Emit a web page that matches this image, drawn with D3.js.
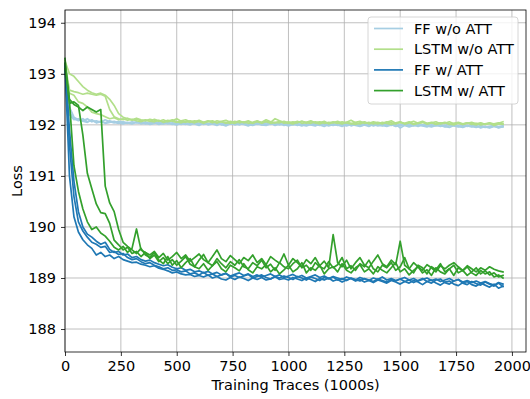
<!DOCTYPE html>
<html>
<head>
<meta charset="utf-8">
<script src="https://cdn.jsdelivr.net/npm/d3@7"></script>
<style>
  body { margin: 0; background: #fff; }
  svg text { font-family: 'DejaVu Sans', 'Verdana', sans-serif; font-size: 14.5px; fill: #000; }
  .grid line { stroke: #b0b0b0; stroke-width: 0.8px; }
  .axis line { stroke: #000; stroke-width: 0.8px; }
  .axis path { display: none; }
  .run { fill: none; stroke-width: 1.7px; stroke-linejoin: round; stroke-linecap: square; }
</style>
</head>
<body>
<div id="chart"></div>
<script>
// one logged point every 20k traces
const step = 20;

const xTicks = [0, 250, 500, 750, 1000, 1250, 1500, 1750, 2000];
const yTicks = [188, 189, 190, 191, 192, 193, 194];

const labels = ["FF w/o ATT", "LSTM w/o ATT", "FF w/ ATT", "LSTM w/ ATT"];
const colors = ["#a6cee3", "#b2df8a", "#1f78b4", "#33a02c"];

// FF w/o ATT, three runs
const ffNoAtt = [
  [193.20,192.35,192.15,192.10,192.08,192.12,192.06,192.08,192.05,192.10,
   192.06,192.04,192.07,192.05,192.03,192.06,192.04,192.05,192.02,192.04,
   192.06,192.03,192.05,192.02,192.04,192.03,192.01,192.04,192.02,192.05,
   192.03,192.01,192.03,192.02,192.04,192.00,192.03,192.02,192.01,192.04,
   192.02,192.00,192.03,192.01,192.02,192.04,192.01,192.03,192.00,192.02,
   192.01,192.03,191.99,192.02,192.00,192.03,192.01,191.99,192.02,192.00,
   192.02,191.99,192.01,192.03,191.98,192.01,192.00,192.02,191.99,192.01,
   192.00,191.98,192.02,191.99,192.01,191.94,191.99,192.01,191.98,192.00,
   191.99,192.01,191.98,192.00,191.97,191.99,192.01,191.98,191.96,191.99,
   191.97,191.99,191.96,191.98,191.95,191.97,191.99,191.96,191.98],
  [193.15,192.25,192.12,192.08,192.12,192.06,192.09,192.05,192.07,192.04,
   192.08,192.05,192.03,192.06,192.04,192.02,192.05,192.03,192.06,192.02,
   192.04,192.01,192.03,192.05,192.02,192.00,192.03,192.01,192.04,192.02,
   191.99,192.03,192.01,192.04,192.02,192.01,191.98,192.02,192.03,192.00,
   192.03,192.01,191.99,192.02,192.00,192.01,192.03,191.99,192.02,192.01,
   191.98,192.01,192.03,192.00,191.98,192.01,192.02,192.00,191.97,192.01,
   191.99,192.02,192.00,191.98,192.01,191.99,191.97,192.00,192.02,191.98,
   192.01,191.99,191.97,192.00,191.98,192.01,191.99,191.96,191.99,192.01,
   191.98,191.96,192.00,191.98,191.99,191.96,191.98,192.00,191.97,191.95,
   191.99,191.97,191.95,191.98,191.96,191.94,191.97,191.95,191.96],
  [193.10,192.20,192.10,192.12,192.07,192.05,192.10,192.04,192.06,192.03,
   192.05,192.07,192.04,192.02,192.05,192.03,192.06,192.02,192.04,192.01,
   192.03,192.05,192.02,192.04,192.01,192.03,192.05,192.02,192.00,192.03,
   192.02,192.04,192.00,192.02,191.99,192.03,192.01,192.04,192.00,192.02,
   192.01,191.98,192.02,192.04,192.00,191.99,192.02,192.01,192.03,191.99,
   192.02,192.00,192.01,191.98,192.02,192.00,191.98,192.02,192.01,191.98,
   192.01,192.00,191.97,192.01,192.00,192.02,191.98,192.00,191.97,192.01,
   191.98,192.00,191.99,192.01,191.97,191.99,192.01,191.98,192.00,191.97,
   192.00,191.98,191.96,191.99,192.01,191.97,191.95,191.99,191.98,191.96,
   191.98,191.96,191.99,191.94,191.97,191.95,191.98,191.94,191.97]
];

// LSTM w/o ATT, three runs
const lstmNoAtt = [
  [193.25,193.00,192.95,192.85,192.75,192.68,192.63,192.60,192.62,192.58,
   192.50,192.38,192.22,192.15,192.12,192.10,192.13,192.10,192.08,192.11,
   192.09,192.07,192.10,192.06,192.08,192.12,192.07,192.05,192.08,192.06,
   192.09,192.05,192.07,192.04,192.08,192.06,192.03,192.07,192.05,192.08,
   192.04,192.06,192.03,192.07,192.05,192.10,192.06,192.04,192.07,192.03,
   192.06,192.04,192.07,192.03,192.05,192.08,192.04,192.06,192.03,192.05,
   192.04,192.07,192.03,192.05,192.09,192.04,192.02,192.05,192.03,192.06,
   192.04,192.02,192.05,192.08,192.03,192.05,192.02,192.04,192.07,192.03,
   192.05,192.02,192.04,192.06,192.02,192.04,192.01,192.03,192.05,192.02,
   192.04,192.01,192.03,192.00,192.02,192.04,192.01,192.03,192.06],
  [193.20,192.68,192.65,192.63,192.60,192.62,192.60,192.58,192.60,192.56,
   192.30,192.16,192.12,192.10,192.13,192.09,192.11,192.08,192.10,192.07,
   192.11,192.08,192.06,192.09,192.07,192.05,192.08,192.10,192.06,192.04,
   192.07,192.05,192.08,192.06,192.04,192.07,192.09,192.05,192.03,192.06,
   192.05,192.08,192.04,192.06,192.03,192.07,192.05,192.12,192.08,192.05,
   192.03,192.06,192.04,192.07,192.05,192.03,192.06,192.04,192.07,192.02,
   192.05,192.03,192.06,192.04,192.02,192.05,192.07,192.03,192.05,192.02,
   192.05,192.03,192.06,192.04,192.02,192.05,192.03,192.06,192.02,192.04,
   192.07,192.03,192.05,192.02,192.04,192.03,192.06,192.02,192.04,192.01,
   192.03,192.05,192.02,192.04,192.01,192.03,192.02,192.04,192.02],
  [193.10,192.62,192.58,192.45,192.42,192.35,192.25,192.22,192.20,192.16,
   192.12,192.14,192.10,192.12,192.09,192.11,192.08,192.06,192.09,192.07,
   192.06,192.09,192.05,192.07,192.10,192.06,192.04,192.07,192.05,192.08,
   192.06,192.03,192.06,192.08,192.04,192.06,192.05,192.03,192.07,192.04,
   192.06,192.03,192.05,192.08,192.04,192.06,192.03,192.05,192.04,192.07,
   192.04,192.02,192.05,192.07,192.03,192.06,192.04,192.02,192.05,192.03,
   192.06,192.04,192.02,192.05,192.03,192.01,192.04,192.06,192.02,192.04,
   192.02,192.05,192.03,192.01,192.04,192.06,192.02,192.04,192.01,192.03,
   192.05,192.02,192.04,192.01,192.03,192.05,192.02,192.00,192.03,192.01,
   192.04,192.02,192.00,192.03,192.01,192.03,191.99,192.02,192.01]
];

// FF w/ ATT, three runs
const ffAtt = [
  [193.20,191.00,190.20,189.90,189.75,189.65,189.58,189.45,189.50,189.42,
   189.45,189.38,189.42,189.36,189.33,189.30,189.31,189.27,189.25,189.22,
   189.24,189.19,189.17,189.14,189.10,189.12,189.08,189.06,189.07,189.03,
   189.05,189.02,189.06,189.00,189.03,188.98,188.96,189.01,188.97,189.02,
   188.99,188.95,189.00,188.97,189.01,188.96,188.98,189.03,188.97,188.99,
   188.96,189.01,188.98,188.95,189.00,188.97,188.93,188.99,188.96,189.00,
   188.94,188.97,188.92,188.96,188.99,188.94,188.97,188.92,188.95,188.91,
   188.96,188.93,188.90,188.95,188.92,188.88,188.93,188.90,188.95,188.92,
   188.87,188.93,188.96,188.90,188.86,188.92,188.94,188.88,188.85,188.91,
   188.93,188.87,188.84,188.90,188.86,188.82,188.88,188.80,188.84],
  [193.20,191.60,190.60,190.10,189.92,189.80,189.70,189.66,189.60,189.62,
   189.50,189.52,189.46,189.48,189.40,189.36,189.38,189.32,189.28,189.30,
   189.25,189.22,189.18,189.20,189.15,189.16,189.12,189.14,189.08,189.10,
   189.06,189.11,189.05,189.08,189.03,189.06,189.09,189.02,189.05,189.01,
   189.04,189.07,189.00,189.03,189.06,189.01,188.98,189.03,189.00,189.04,
   189.01,188.97,189.03,189.00,188.96,189.02,188.99,188.95,189.01,188.98,
   189.02,188.96,188.99,188.95,189.00,188.97,188.94,188.99,188.96,188.93,
   188.98,188.95,188.92,188.97,188.94,188.98,188.93,188.96,188.91,188.95,
   188.99,188.93,188.90,188.96,188.98,188.91,188.88,188.94,188.97,188.90,
   188.87,188.93,188.89,188.86,188.92,188.88,188.84,188.90,188.83],
  [193.20,191.90,190.90,190.30,190.00,189.86,189.80,189.72,189.66,189.70,
   189.56,189.50,189.52,189.45,189.47,189.40,189.42,189.36,189.33,189.35,
   189.30,189.27,189.24,189.26,189.21,189.18,189.20,189.15,189.17,189.12,
   189.14,189.10,189.13,189.08,189.11,189.06,189.09,189.04,189.07,189.10,
   189.05,189.08,189.03,189.06,189.02,189.05,189.08,189.03,189.06,189.01,
   189.04,189.07,189.02,189.05,189.00,189.03,189.06,189.01,189.04,188.99,
   189.03,189.00,188.97,189.02,188.99,188.96,189.01,188.98,188.95,189.00,
   188.97,189.02,188.96,188.99,188.95,188.98,189.01,188.96,188.99,188.94,
   188.97,189.00,188.95,188.98,188.93,188.96,188.99,188.94,188.97,188.92,
   188.95,188.91,188.94,188.90,188.93,188.89,188.86,188.91,188.88]
];

// LSTM w/ ATT, three runs
const lstmAtt = [
  [193.30,192.45,191.20,190.70,190.35,190.10,189.95,190.00,189.88,189.82,
   189.72,189.60,189.55,189.62,189.50,189.58,189.96,189.55,189.50,189.45,
   189.52,189.40,189.48,189.35,189.42,189.50,189.38,189.45,189.33,189.40,
   189.47,189.36,189.30,189.42,189.55,189.38,189.32,189.44,189.36,189.28,
   189.40,189.34,189.45,189.30,189.38,189.26,189.42,189.35,189.29,189.47,
   189.25,189.38,189.30,189.22,189.36,189.28,189.40,189.24,189.33,189.20,
   189.85,189.30,189.22,189.35,189.18,189.30,189.40,189.25,189.20,189.33,
   189.45,189.28,189.22,189.35,189.26,189.72,189.25,189.18,189.30,189.22,
   189.15,189.26,189.20,189.12,189.24,189.18,189.25,189.30,189.22,189.15,
   189.24,189.18,189.12,189.20,189.15,189.22,189.17,189.14,189.12],
  [193.20,192.42,192.45,192.38,191.80,191.05,190.75,190.45,190.28,190.26,
   190.07,189.74,189.65,189.55,189.60,189.48,189.52,189.42,189.50,189.38,
   189.45,189.32,189.40,189.28,189.36,189.25,189.33,189.42,189.27,189.22,
   189.35,189.46,189.30,189.24,189.38,189.28,189.20,189.32,189.25,189.36,
   189.22,189.18,189.30,189.24,189.35,189.20,189.27,189.15,189.30,189.22,
   189.18,189.28,189.35,189.20,189.25,189.15,189.30,189.22,189.18,189.32,
   189.20,189.26,189.40,189.18,189.24,189.15,189.28,189.22,189.35,189.18,
   189.12,189.25,189.20,189.30,189.15,189.22,189.40,189.18,189.10,189.25,
   189.20,189.08,189.22,189.16,189.28,189.12,189.18,189.05,189.20,189.14,
   189.22,189.10,189.05,189.15,189.08,189.12,189.02,189.06,189.00],
  [193.10,192.50,192.40,192.35,192.28,192.35,192.30,192.25,192.30,190.80,
   190.47,190.30,189.95,189.70,189.62,189.55,189.48,189.58,189.45,189.40,
   189.50,189.35,189.28,189.42,189.25,189.34,189.20,189.30,189.38,189.22,
   189.18,189.28,189.15,189.24,189.32,189.18,189.12,189.25,189.20,189.14,
   189.28,189.16,189.10,189.22,189.18,189.26,189.12,189.20,189.08,189.16,
   189.25,189.12,189.18,189.30,189.10,189.20,189.15,189.25,189.08,189.18,
   189.22,189.12,189.28,189.15,189.10,189.20,189.26,189.12,189.18,189.08,
   189.22,189.15,189.10,189.20,189.30,189.12,189.18,189.06,189.15,189.22,
   189.10,189.16,189.05,189.20,189.12,189.08,189.18,189.25,189.10,189.15,
   189.05,189.12,189.20,189.08,189.14,189.06,189.10,189.02,189.05]
];

const groups = [ffNoAtt, lstmNoAtt, ffAtt, lstmAtt];

const width = 530, height = 399;
const margin = { top: 10, right: 4, bottom: 47, left: 65 };
const iw = width - margin.left - margin.right;
const ih = height - margin.top - margin.bottom;

const svg = d3.select("#chart").append("svg")
  .attr("width", width)
  .attr("height", height);

const g = svg.append("g")
  .attr("transform", `translate(${margin.left},${margin.top})`);

const x = d3.scaleLinear().domain([0, 2063]).range([0, iw]);
const y = d3.scaleLinear().domain([187.55, 194.25]).range([ih, 0]);

// grid
g.append("g").attr("class", "grid")
  .selectAll("line").data(xTicks).join("line")
  .attr("x1", d => x(d)).attr("x2", d => x(d))
  .attr("y1", 0).attr("y2", ih);
g.append("g").attr("class", "grid")
  .selectAll("line").data(yTicks).join("line")
  .attr("x1", 0).attr("x2", iw)
  .attr("y1", d => y(d)).attr("y2", d => y(d));

// runs
const line = d3.line()
  .x((d, i) => x(i * step))
  .y(d => y(d));

groups.forEach((runs, gi) => {
  g.append("g").selectAll("path").data(runs).join("path")
    .attr("class", "run")
    .attr("stroke", colors[gi])
    .attr("d", line);
});

// axes
g.append("g").attr("class", "axis")
  .attr("transform", `translate(0,${ih})`)
  .call(d3.axisBottom(x).tickValues(xTicks).tickSize(4).tickPadding(5).tickFormat(d3.format("d")));

g.append("g").attr("class", "axis")
  .call(d3.axisLeft(y).tickValues(yTicks).tickSize(4).tickPadding(5).tickFormat(d3.format("d")));

// frame
g.append("rect")
  .attr("width", iw).attr("height", ih)
  .attr("fill", "none").attr("stroke", "#000").attr("stroke-width", 0.8);

// axis titles
svg.append("text")
  .attr("x", margin.left + iw / 2).attr("y", 390)
  .attr("text-anchor", "middle")
  .text("Training Traces (1000s)");

svg.append("text")
  .attr("transform", `translate(22,${margin.top + ih / 2}) rotate(-90)`)
  .attr("text-anchor", "middle")
  .text("Loss");

// legend
const lg = svg.append("g").attr("transform", "translate(368,17)");
lg.append("rect")
  .attr("width", 150).attr("height", 87).attr("rx", 3)
  .attr("fill", "#fff").attr("fill-opacity", 0.8)
  .attr("stroke", "#cccccc").attr("stroke-width", 0.8);

const item = lg.selectAll("g.item").data(labels).join("g")
  .attr("class", "item")
  .attr("transform", (d, i) => `translate(0,${11.5 + i * 20.7})`);
item.append("line")
  .attr("x1", 6).attr("x2", 35)
  .attr("stroke", (d, i) => colors[i]).attr("stroke-width", 1.7);
item.append("text")
  .attr("x", 46).attr("dy", "0.35em")
  .text(d => d);
</script>
</body>
</html>
